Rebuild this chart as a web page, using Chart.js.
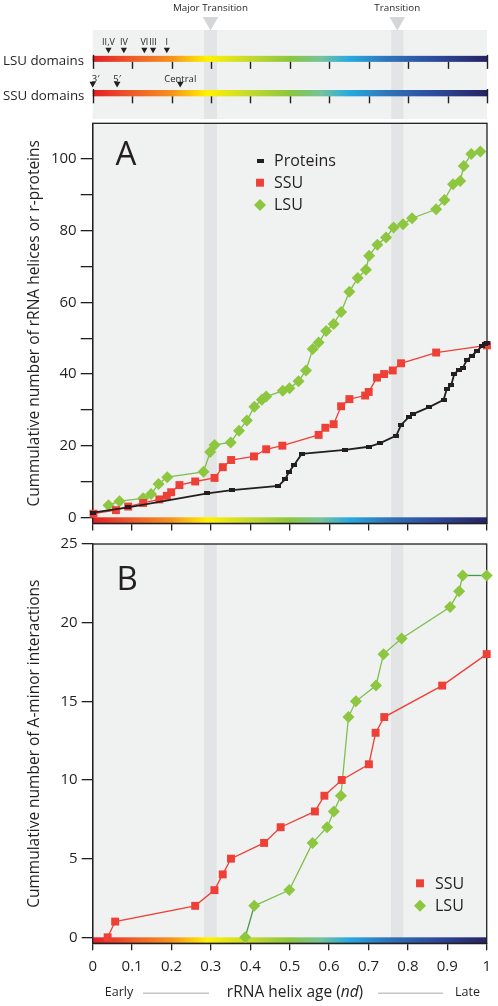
<!DOCTYPE html>
<html>
<head>
<meta charset="utf-8">
<script src="https://cdn.jsdelivr.net/npm/chart.js@4.4.1/dist/chart.umd.min.js"></script>
<style>
  html, body { margin: 0; padding: 0; background: #fff; }
  #wrap { position: relative; width: 498px; height: 1006px; overflow: hidden; }
  canvas { position: absolute; left: 0; }
</style>
</head>
<body>
<div id="wrap">
  <canvas id="head" width="498" height="128" style="top:0px"></canvas>
  <canvas id="panelA" width="498" height="430" style="top:110px"></canvas>
  <canvas id="panelB" width="498" height="476" style="top:530px"></canvas>
</div>
<script>
// ── Datos ────────────────────────────────────────────────────────────────
const xTicks  = [0, 0.1, 0.2, 0.3, 0.4, 0.5, 0.6, 0.7, 0.8, 0.9, 1];
const yTicksA = [0, 10, 20, 30, 40, 50, 60, 70, 80, 90, 100];
const yTicksB = [0, 5, 10, 15, 20, 25];

const transitionNames = ["Major Transition", "Transition"];
const transitionStart = [0.2825, 0.757];
const transitionEnd   = [0.315, 0.788];

const lsuDomainNames = ["II,V", "IV", "VI", "III", "I"];
const lsuDomainAge   = [0.04, 0.079, 0.131, 0.153, 0.188];
const ssuDomainNames = ["3′", "5′", "Central"];
const ssuDomainAge   = [0, 0.062, 0.222];

// Panel A
const proteinAge   = [0, 0.09, 0.291, 0.353, 0.471, 0.488, 0.498, 0.511, 0.530, 0.640, 0.700, 0.729, 0.770, 0.782, 0.801,
                      0.812, 0.852, 0.890, 0.898, 0.909, 0.917, 0.928, 0.939, 0.949, 0.962, 0.975, 0.987, 0.996, 1.0];
const proteinCount = [1.3, 2.8, 6.7, 7.6, 8.8, 10.6, 12.7, 14.6, 17.7, 18.8, 19.7, 20.7, 22.8, 25.8, 27.9,
                      28.8, 30.7, 32.8, 35.8, 36.8, 40, 41.1, 41.8, 43.9, 45.1, 46.5, 47.7, 48.4, 48.6];

const ssuAgeA   = [0.002, 0.059, 0.09, 0.128, 0.169, 0.188, 0.199, 0.22, 0.26, 0.309, 0.33, 0.351, 0.409, 0.44,
                   0.481, 0.573, 0.59, 0.611, 0.63, 0.651, 0.691, 0.70, 0.721, 0.739, 0.761, 0.782, 0.871, 1.0];
const ssuCountA = [1, 2, 3, 4, 5, 6, 7, 9, 10, 11, 14, 16, 17, 19,
                   20, 23, 25, 26, 31, 33, 34, 35, 39, 40, 41, 43, 46, 48];

const lsuAgeA   = [0.04, 0.068, 0.128, 0.148, 0.167, 0.189, 0.281, 0.298, 0.309, 0.35, 0.371, 0.391, 0.41, 0.429,
                   0.44, 0.482, 0.499, 0.522, 0.541, 0.558, 0.573, 0.592, 0.611, 0.63, 0.651, 0.672, 0.693, 0.701,
                   0.722, 0.744, 0.763, 0.787, 0.81, 0.871, 0.892, 0.914, 0.932, 0.941, 0.96, 0.983];
const lsuCountA = [3.4, 4.5, 5.3, 6.5, 9.3, 11.2, 12.7, 18.2, 20.2, 20.9, 24.2, 27, 30.9, 32.8,
                   33.7, 35.3, 36, 38, 41, 47, 48.8, 52, 54, 57.3, 63, 66.8, 69.1, 73,
                   76.1, 78.1, 80.9, 81.8, 83.5, 86, 88.6, 93, 93.9, 98.1, 101.4, 102.1];

// Panel B
const ssuAgeB   = [0.038, 0.057, 0.26, 0.309, 0.33, 0.351, 0.435, 0.477, 0.564, 0.588, 0.632, 0.701, 0.718, 0.74, 0.887, 1.0];
const ssuCountB = [0, 1, 2, 3, 4, 5, 6, 7, 8, 9, 10, 11, 13, 14, 16, 18];
const lsuAgeB   = [0.387, 0.41, 0.499, 0.558, 0.595, 0.612, 0.63, 0.649, 0.668, 0.719, 0.738, 0.784, 0.907, 0.93, 0.939, 1.0];
const lsuCountB = [0, 2, 3, 6, 7, 8, 9, 14, 15, 16, 18, 19, 21, 22, 23, 23];

// ── Estilos ──────────────────────────────────────────────────────────────
const FONT  = '"Open Sans", "DejaVu Sans", sans-serif';
const INK   = "#231f20";
const RED   = "#ee4036";
const GREEN = "#8dc63f";
const DARKGREEN = "#3f9a4c";
const PANEL_BG = "#f0f1f1";
const BAND_BG  = "#e3e4e6";

Chart.defaults.font.family = FONT;
Chart.defaults.color = INK;

const pts = (xs, ys) => xs.map((x, i) => ({ x, y: ys[i] }));

function barGradient(ctx, x0, x1) {
    const g = ctx.createLinearGradient(x0, 0, x1, 0);
    [[0, "#e21f26"], [0.1, "#ee5a2a"], [0.2, "#f6921e"], [0.29, "#fff200"], [0.4, "#c4d92e"],
     [0.5, "#8cc63f"], [0.58, "#74c39c"], [0.65, "#27aae1"], [0.75, "#2f73b8"], [0.87, "#2d4a9c"],
     [1, "#262262"]].forEach(s => g.addColorStop(s[0], s[1]));
    return g;
}

// marcador de proteína: pequeño guion negro
function dashImage(w, h) {
    const c = document.createElement("canvas");
    c.width = w; c.height = h;
    const cx = c.getContext("2d");
    cx.fillStyle = INK;
    cx.fillRect(0, 0, w, h);
    return c;
}
const proteinDash = dashImage(6, 4);
const legendDash  = dashImage(7, 4);

function drawBands(ctx, x, top, bottom) {
    ctx.fillStyle = BAND_BG;
    transitionStart.forEach((s, i) => {
        const x0 = x.getPixelForValue(s);
        const x1 = x.getPixelForValue(transitionEnd[i]);
        ctx.fillRect(x0, top, x1 - x0, bottom - top);
    });
}

function text(ctx, str, x, y, size, align = "left", style = "") {
    ctx.font = `${style} ${size}px ${FONT}`;
    ctx.textAlign = align;
    ctx.textBaseline = "middle";
    ctx.fillStyle = INK;
    ctx.fillText(str, x, y);
}

function legendMarker(ctx, opts, x, y, color) {
    ctx.save();
    ctx.fillStyle = color;
    ctx.strokeStyle = color;
    Chart.helpers.drawPoint(ctx, opts, x, y);
    ctx.restore();
}

// ── Plugins ──────────────────────────────────────────────────────────────
const panelBg = {
    id: "panelBg",
    beforeDraw(chart) {
        const { ctx, chartArea: a, scales: { x } } = chart;
        ctx.save();
        ctx.fillStyle = PANEL_BG;
        ctx.fillRect(a.left, a.top, a.width, a.height);
        drawBands(ctx, x, a.top, a.bottom);
        ctx.restore();
    },
    beforeDatasetsDraw(chart) {
        const { ctx, chartArea: a, scales: { y } } = chart;
        const y0 = y.getPixelForValue(0);
        ctx.save();
        ctx.fillStyle = barGradient(ctx, a.left, a.right);
        ctx.fillRect(a.left, y0, a.width, a.bottom - y0);
        ctx.strokeStyle = INK;
        ctx.lineWidth = 1.3;
        ctx.strokeRect(a.left, a.top, a.width, a.height);
        ctx.restore();
    }
};

const headerPlugin = {
    id: "headerPlugin",
    beforeDatasetsDraw(chart) {
        const { ctx, chartArea: a, scales: { x, y } } = chart;
        ctx.save();
        ctx.fillStyle = PANEL_BG;
        ctx.fillRect(a.left, a.top, a.width, a.height);
        drawBands(ctx, x, a.top, a.bottom);

        // barras de color LSU / SSU
        [[27, 33.3], [62.7, 69.3]].forEach(([t, b]) => {
            const yt = y.getPixelForValue(t), yb = y.getPixelForValue(b);
            ctx.fillStyle = barGradient(ctx, a.left, a.right);
            ctx.fillRect(a.left, yt, a.width, yb - yt);
            ctx.strokeStyle = INK;
            ctx.lineWidth = 1.4;
            xTicks.forEach((v, i) => {
                const px = Math.round(x.getPixelForValue(v)) + 0.5;
                const edge = i === 0 || i === xTicks.length - 1;
                ctx.beginPath();
                ctx.moveTo(px, edge ? yt - 1 : yb);
                ctx.lineTo(px, yb + 7);
                ctx.stroke();
            });
        });
        ctx.restore();
    },
    afterDraw(chart) {
        const { ctx, scales: { x } } = chart;
        ctx.save();
        text(ctx, "LSU domains", 3, 61, 13.3);
        text(ctx, "SSU domains", 3, 96, 13.3);
        transitionNames.forEach((n, i) => {
            text(ctx, n, x.getPixelForValue((transitionStart[i] + transitionEnd[i]) / 2), 8, 9.8, "center");
        });
        lsuDomainNames.forEach((n, i) => {
            text(ctx, n, x.getPixelForValue(lsuDomainAge[i]), 42.5, 9, "center");
        });
        ssuDomainNames.forEach((n, i) => {
            const px = x.getPixelForValue(ssuDomainAge[i]);
            text(ctx, n, i === 0 ? px - 1 : px, 79.5, 9.5, i === 0 ? "left" : "center");
        });
        ctx.restore();
    }
};

const labelsA = {
    id: "labelsA",
    afterDraw(chart) {
        const { ctx } = chart;
        ctx.save();
        text(ctx, "A", 115.5, 46, 33);
        legendMarker(ctx, { pointStyle: legendDash, radius: 4, borderWidth: 0 }, 260, 50.7, INK);
        legendMarker(ctx, { pointStyle: "rect", radius: 5.6, borderWidth: 0 }, 260, 72.7, RED);
        legendMarker(ctx, { pointStyle: "rectRot", radius: 6, borderWidth: 0 }, 260, 95, GREEN);
        text(ctx, "Proteins", 274, 51.5, 16);
        text(ctx, "SSU", 274, 73.5, 16);
        text(ctx, "LSU", 274, 95.8, 16);
        ctx.restore();
    }
};

const labelsB = {
    id: "labelsB",
    afterDraw(chart) {
        const { ctx } = chart;
        ctx.save();
        text(ctx, "B", 116.5, 50.3, 33);
        legendMarker(ctx, { pointStyle: "rect", radius: 5.6, borderWidth: 0 }, 420, 353.3, RED);
        legendMarker(ctx, { pointStyle: "rectRot", radius: 6, borderWidth: 0 }, 420, 375.7, GREEN);
        text(ctx, "SSU", 435, 354, 16);
        text(ctx, "LSU", 435, 376.5, 16);

        // fila inferior: Early ——— rRNA helix age (nd) ——— Late
        const yRow = 462.7;
        text(ctx, "Early", 119, yRow, 12.5, "center");
        text(ctx, "Late", 467.5, yRow, 12.5, "center");
        ctx.strokeStyle = "#c4c6c8";
        ctx.lineWidth = 1.4;
        [[143, 209], [378, 443]].forEach(([a, b]) => {
            ctx.beginPath();
            ctx.moveTo(a, yRow + 0.5);
            ctx.lineTo(b, yRow + 0.5);
            ctx.stroke();
        });
        const parts = [["rRNA helix age (", ""], ["nd", "italic"], [")", ""]];
        const size = 15.5;
        let total = 0;
        parts.forEach(([s, st]) => { ctx.font = `${st} ${size}px ${FONT}`; total += ctx.measureText(s).width; });
        let cx = 295 - total / 2;
        parts.forEach(([s, st]) => {
            text(ctx, s, cx, yRow, size, "left", st);
            cx += ctx.measureText(s).width;
        });
        ctx.restore();
    }
};

// ── Ejes comunes ─────────────────────────────────────────────────────────
function xAxis(showLabels, height) {
    return {
        type: "linear", min: 0, max: 1,
        afterBuildTicks: s => { s.ticks = xTicks.map(v => ({ value: v })); },
        afterFit: s => { s.height = height; },
        ticks: {
            display: showLabels, autoSkip: false, maxRotation: 0, padding: 7,
            font: { size: 15 }, color: INK,
            callback: v => (v === 0 || v === 1) ? String(v) : v.toFixed(1)
        },
        grid: { drawOnChartArea: false, tickLength: 7, color: INK, lineWidth: 1.3 },
        border: { display: true, color: INK, width: 1.3 }
    };
}

function yAxis(min, max, ticksArr, labelEvery, tickLen, title) {
    return {
        type: "linear", min, max,
        afterBuildTicks: s => { s.ticks = ticksArr.map(v => ({ value: v })); },
        afterFit: s => { s.width = 92.7; },
        ticks: {
            font: { size: 15 }, color: INK, padding: 4,
            callback: v => (v % labelEvery === 0 ? String(v) : "")
        },
        grid: { drawOnChartArea: false, tickLength: tickLen, color: INK, lineWidth: 1.3 },
        border: { display: true, color: INK, width: 1.3 },
        title: { display: true, text: title, font: { size: 15.5 }, color: INK, padding: { top: 25.5, bottom: 0 } }
    };
}

const baseOptions = {
    responsive: false,
    animation: false,
    devicePixelRatio: 1,
    plugins: { legend: { display: false }, tooltip: { enabled: false } }
};

// ── Cabecera con dominios ────────────────────────────────────────────────
new Chart(document.getElementById("head"), {
    type: "scatter",
    data: {
        datasets: [
            {
                data: transitionStart.map((s, i) => ({ x: (s + transitionEnd[i]) / 2, y: -9 })),
                pointStyle: "triangle", pointRotation: 180, pointRadius: 9,
                backgroundColor: "#d5d6d8", borderWidth: 0, clip: false
            },
            {
                data: lsuDomainAge.map(x => ({ x, y: 20.5 })),
                pointStyle: "triangle", pointRotation: 180, pointRadius: 3.6,
                backgroundColor: INK, borderWidth: 0, clip: false
            },
            {
                data: ssuDomainAge.map(x => ({ x, y: 56 })),
                pointStyle: "triangle", pointRotation: 180, pointRadius: 3.8,
                backgroundColor: INK, borderWidth: 0, clip: false
            }
        ]
    },
    options: {
        ...baseOptions,
        layout: { padding: { left: 92.7, right: 11, top: 30, bottom: 5 } },
        scales: {
            x: { type: "linear", min: 0, max: 1, display: false },
            y: { type: "linear", min: 0, max: 93, reverse: true, display: false }
        }
    },
    plugins: [headerPlugin]
});

// ── Panel A ──────────────────────────────────────────────────────────────
new Chart(document.getElementById("panelA"), {
    type: "line",
    data: {
        datasets: [
            {
                label: "Proteins", data: pts(proteinAge, proteinCount),
                borderColor: INK, borderWidth: 1.8, pointStyle: proteinDash, pointRadius: 3,
                tension: 0, clip: false
            },
            {
                label: "SSU", data: pts(ssuAgeA, ssuCountA),
                borderColor: RED, backgroundColor: RED, borderWidth: 1.3,
                pointStyle: "rect", pointRadius: 5.6, pointBorderWidth: 0, tension: 0, clip: false
            },
            {
                label: "LSU", data: pts(lsuAgeA, lsuCountA),
                borderColor: "#7fbf4d", backgroundColor: GREEN, borderWidth: 1.3,
                pointStyle: "rectRot", pointRadius: 6, pointBorderWidth: 0, tension: 0, clip: false
            }
        ]
    },
    options: {
        ...baseOptions,
        layout: { padding: { left: 0, right: 11, top: 13.3, bottom: 0 } },
        scales: {
            x: xAxis(false, 16.6),
            y: yAxis(-1.7, 110, yTicksA, 20, 12, "Cummulative number of rRNA helices or r-proteins")
        }
    },
    plugins: [panelBg, labelsA]
});

// ── Panel B ──────────────────────────────────────────────────────────────
new Chart(document.getElementById("panelB"), {
    type: "line",
    data: {
        datasets: [
            {
                label: "SSU", data: pts(ssuAgeB, ssuCountB),
                borderColor: RED, backgroundColor: RED, borderWidth: 1.3,
                pointStyle: "rect", pointRadius: 5.6, pointBorderWidth: 0, tension: 0, clip: false
            },
            {
                label: "LSU", data: pts(lsuAgeB, lsuCountB),
                borderColor: "#7fbf4d", backgroundColor: GREEN, borderWidth: 1.3,
                pointStyle: "rectRot", pointRadius: 6, pointBorderWidth: 0, tension: 0, clip: false,
                segment: {
                    borderColor: c => (c.p0DataIndex === 0 || c.p1DataIndex === lsuAgeB.length - 1) ? DARKGREEN : undefined
                }
            }
        ]
    },
    options: {
        ...baseOptions,
        layout: { padding: { left: 0, right: 11, top: 14, bottom: 0 } },
        scales: {
            x: xAxis(true, 62.7),
            y: yAxis(-0.38, 25, yTicksB, 5, 11, "Cummulative number of A-minor interactions")
        }
    },
    plugins: [panelBg, labelsB]
});
</script>
</body>
</html>
